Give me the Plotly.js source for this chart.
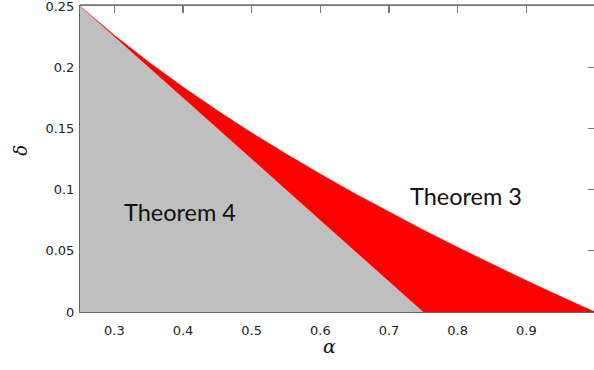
<!DOCTYPE html>
<html>
<head>
<meta charset="utf-8">
<script src="https://cdn.plot.ly/plotly-3.0.1.min.js"></script>
<style>
html,body{margin:0;padding:0;overflow:hidden;background:#fff;}
#chart{width:600px;height:370px;}
</style>
</head>
<body>
<div id="chart"></div>
<script>
// Theorem 3 boundary (upper edge of the red region)
var thm3Alpha = [0.25, 0.275, 0.30, 0.35, 0.40, 0.45, 0.50, 0.55, 0.60, 0.65, 0.70, 0.75, 0.80, 0.85, 0.90, 0.95, 1.00];
var thm3Delta = [0.25, 0.2378, 0.2261, 0.2042, 0.1838, 0.1646, 0.1464, 0.1292, 0.1127, 0.0969, 0.0817, 0.0670, 0.0528, 0.0390, 0.0257, 0.0127, 0.0];
// Theorem 4 region (grey triangle)
var thm4Alpha = [0.25, 0.75, 0.25];
var thm4Delta = [0.25, 0.0, 0.0];
// ticks
var xTickVals = [0.3, 0.4, 0.5, 0.6, 0.7, 0.8, 0.9];
var xTickText = ['0.3', '0.4', '0.5', '0.6', '0.7', '0.8', '0.9'];
var yTickVals = [0, 0.05, 0.1, 0.15, 0.2, 0.25];
var yTickText = ['0', '0.05', '0.1', '0.15', '0.2', '0.25'];
var regionLabels = ['Theorem 4', 'Theorem 3'];
var labelAlpha = [0.395, 0.812];
var labelDelta = [0.082, 0.0945];

var redX = thm3Alpha.concat([thm4Alpha[0]]);
var redY = thm3Delta.concat([0]);

var traces = [
  {x: redX, y: redY, mode: 'lines', fill: 'toself', fillcolor: '#ff0000',
   line: {color: '#ff0000', width: 0.5}, hoverinfo: 'skip', showlegend: false},
  {x: thm4Alpha, y: thm4Delta, mode: 'lines', fill: 'toself', fillcolor: '#bfbfbf',
   line: {color: '#bfbfbf', width: 0}, hoverinfo: 'skip', showlegend: false}
];

var tickFont = {family: 'DejaVu Sans', size: 13, color: '#222'};
var layout = {
  width: 600, height: 370,
  margin: {l: 80, r: 5, t: 6, b: 58},
  paper_bgcolor: '#fff', plot_bgcolor: '#fff',
  showlegend: false,
  xaxis: {range: [0.25, 1], tickvals: xTickVals, ticktext: xTickText,
    ticks: 'inside', ticklen: 7, tickwidth: 1.5, tickcolor: '#777', mirror: 'ticks', layer: 'below traces',
    showgrid: false, zeroline: false, showline: true, linecolor: '#666', linewidth: 1,
    tickfont: tickFont, ticklabelstandoff: 6, ticklabeloverflow: 'allow', automargin: false, fixedrange: true},
  yaxis: {range: [0, 0.25], tickvals: yTickVals, ticktext: yTickText,
    ticks: 'inside', ticklen: 7, tickcolor: '#777', mirror: 'ticks', layer: 'below traces',
    showgrid: false, zeroline: false, showline: true, linecolor: '#666', linewidth: 1,
    tickfont: tickFont, ticklabelstandoff: 2, ticklabeloverflow: 'allow', automargin: false, fixedrange: true},
  shapes: [
    {type: 'line', xref: 'paper', yref: 'paper', x0: 0, x1: 1, y0: 1.003, y1: 1.003,
     line: {color: '#777777', width: 1.5}, layer: 'above'}
  ],
  annotations: [
    {x: labelAlpha[0], y: labelDelta[0], xref: 'x', yref: 'y', text: regionLabels[0], showarrow: false,
     font: {family: 'Lato', size: 23.5, color: '#111'}, xanchor: 'center', yanchor: 'middle'},
    {x: labelAlpha[1], y: labelDelta[1], xref: 'x', yref: 'y', text: regionLabels[1], showarrow: false,
     font: {family: 'Lato', size: 23.5, color: '#111'}, xanchor: 'center', yanchor: 'middle'},
    {x: 0.4835, y: -0.111, xref: 'paper', yref: 'paper', text: '<i>α</i>', showarrow: false,
     font: {family: 'DejaVu Serif', size: 19, color: '#111'}, xanchor: 'center', yanchor: 'middle'},
    {x: -0.1155, y: 0.529, xref: 'paper', yref: 'paper', text: '<i>δ</i>', showarrow: false, textangle: -90,
     font: {family: 'DejaVu Serif', size: 18, color: '#111'}, xanchor: 'center', yanchor: 'middle'}
  ]
};

Plotly.newPlot('chart', traces, layout, {staticPlot: true, displayModeBar: false});
</script>
</body>
</html>
